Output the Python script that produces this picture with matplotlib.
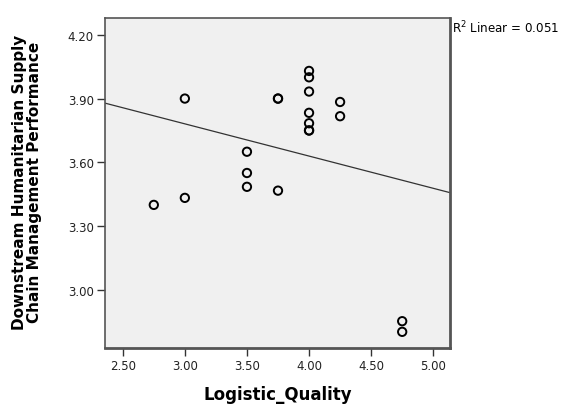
import numpy as np
import matplotlib.pyplot as plt

plt.rcParams['font.family'] = ['DejaVu Sans']

# data
logistic_quality = [2.75, 3.00, 3.00, 3.50, 3.50, 3.50, 3.75, 3.75, 3.75,
                    4.00, 4.00, 4.00, 4.00, 4.00, 4.00, 4.00, 4.25, 4.25,
                    4.75, 4.75]
performance = [3.40, 3.90, 3.433, 3.65, 3.55, 3.485, 3.90, 3.90, 3.467,
               4.03, 4.00, 3.933, 3.833, 3.784, 3.75, 3.75, 3.884, 3.817,
               2.853, 2.803]
x_ticks = [2.50, 3.00, 3.50, 4.00, 4.50, 5.00]
y_ticks = [3.00, 3.30, 3.60, 3.90, 4.20]
r2_label = "R$^2$ Linear = 0.051"

fig = plt.figure(figsize=(5.82, 4.10), dpi=100)
ax = fig.add_axes([0.1804, 0.1488, 0.5928, 0.8049])
ax.set_facecolor('#f0f0f0')

ax.scatter(logistic_quality, performance, s=36, facecolors='none',
           edgecolors='black', linewidths=1.4, zorder=3)

xlim = (2.357, 5.135)
slope, intercept = np.polyfit(logistic_quality, performance, 1)
xs = np.array(xlim)
ax.plot(xs, slope * xs + intercept, color='#333333', lw=0.9, zorder=2)

ax.set_xlim(xlim)
ax.set_ylim(2.727, 4.279)
ax.set_xticks(x_ticks)
ax.set_xticklabels(['{:.2f}'.format(v) for v in x_ticks])
ax.set_yticks(y_ticks)
ax.set_yticklabels(['{:.2f}'.format(v) for v in y_ticks])
ax.tick_params(direction='out', length=6, width=1, color='#333333',
               labelsize=8.5, labelcolor='#222222', pad=2)

for s in ax.spines.values():
    s.set_color('#555555')
    s.set_linewidth(1.2)
ax.spines['right'].set_linewidth(2)
ax.spines['bottom'].set_linewidth(2)

ax.set_xlabel('Logistic_Quality', fontsize=12, fontweight='bold', va='top')
ax.xaxis.set_label_coords(0.5, -0.112)
ax.set_ylabel('Downstream Humanitarian Supply\nChain Management Performance',
              fontsize=11, fontweight='bold', linespacing=0.95)
ax.yaxis.set_label_coords(-0.183, 0.505)

fig.text(452 / 582, 1 - 28 / 410, r2_label, fontsize=8.6, va='center', ha='left')

fig.savefig('out.png', dpi=100)
